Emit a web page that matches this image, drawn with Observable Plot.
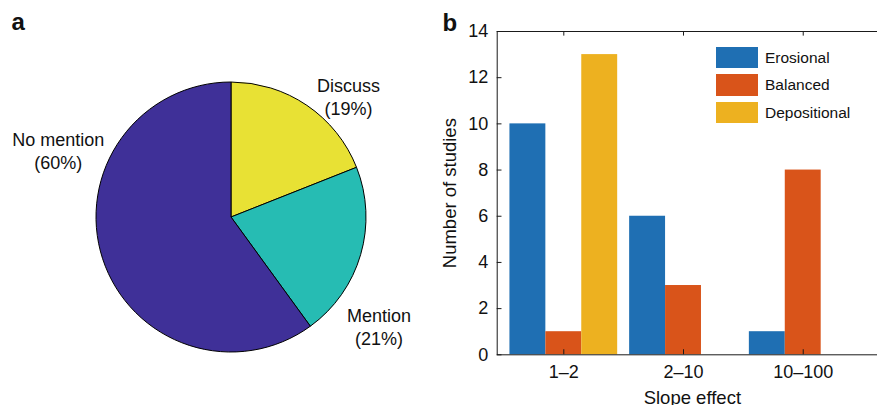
<!DOCTYPE html>
<html><head><meta charset="utf-8">
<script src="https://cdn.jsdelivr.net/npm/d3@7"></script>
<script src="https://cdn.jsdelivr.net/npm/@observablehq/plot@0.6"></script>
<style>
body{margin:0;background:#fff;font-family:"Liberation Sans",Arial,sans-serif;}
#wrap{position:relative;width:877px;height:405px;overflow:hidden;background:#fff;}
.plot{position:absolute;top:0;}
.panel{position:absolute;font-weight:bold;font-size:24px;line-height:24px;color:#111;}
#legend{position:absolute;left:716px;top:43.8px;font-size:15.5px;color:#111;}
.item{display:flex;align-items:center;height:27.5px;}
.sw{width:42px;height:21.7px;margin-right:7px;}
</style></head><body>
<div id="wrap"></div>
<script>
// ---- data ----
const pieCategories = ["Discuss", "Mention", "No mention"];
const piePercents = [19, 21, 60];
const pieColors = ["#e8e134", "#26bcb3", "#3f3098"];

const slopeLabels = ["1–2", "2–10", "10–100"];
const seriesNames = ["Erosional", "Balanced", "Depositional"];
const erosional = [10, 6, 1];
const balanced = [1, 3, 8];
const depositional = [13, 0, 0];
const barColors = ["#1f6fb3", "#d9541a", "#edb120"];
const yTicks = [0, 2, 4, 6, 8, 10, 12, 14];

// ---- pie ----
const wrap = document.getElementById("wrap");
const pieRows = pieCategories.map((c, i) => ({cat: c, pct: piePercents[i]}));
const arcs = d3.pie().sort(null).value(d => d.pct)(pieRows);
arcs.forEach(a => { a.mid = (a.startAngle + a.endAngle) / 2; });

function pieMark(...args) {
  const scales = args.find(a => a && typeof a.x === "function" && typeof a.y === "function");
  const cx = scales.x(0), cy = scales.y(0), r = scales.x(1) - scales.x(0);
  const g = d3.create("svg:g").attr("transform", `translate(${cx},${cy})`);
  const arc = d3.arc().innerRadius(0).outerRadius(r);
  g.selectAll("path").data(arcs).join("path")
    .attr("d", arc)
    .attr("fill", d => pieColors[pieCategories.indexOf(d.data.cat)])
    .attr("stroke", "#000").attr("stroke-width", 1).attr("stroke-linejoin", "round");
  return g.node();
}
const lab = (cat, opts) => Plot.text(arcs.filter(a => a.data.cat === cat), {
  x: a => 1.1 * Math.sin(a.mid), y: a => 1.1 * Math.cos(a.mid),
  text: a => `${a.data.cat}\n(${a.data.pct}%)`,
  textAnchor: "middle", lineAnchor: "middle", lineHeight: 1.28, fontSize: 18, fill: "#111", ...opts
});
const pie = Plot.plot({
  width: 440, height: 405, margin: 0,
  style: {fontFamily: "Liberation Sans, Arial, sans-serif", background: "transparent"},
  x: {domain: [-231 / 135, 209 / 135], axis: null},
  y: {domain: [-188 / 135, 217 / 135], axis: null},
  marks: [
    pieMark,
    lab("Discuss", {dx: 33.5, dy: 1.3}),
    lab("Mention", {dx: 5, dy: 67}),
    lab("No mention", {dx: -32, dy: -113})
  ]
});
pie.classList.add("plot"); pie.style.left = "0px";
wrap.appendChild(pie);

// ---- bars ----
const seriesValues = [erosional, balanced, depositional];
const barRows = [];
slopeLabels.forEach((s, gi) => seriesNames.forEach((name, si) => {
  const c = gi + 1 + (si - 1) * 0.3;
  barRows.push({slope: s, series: name, n: seriesValues[si][gi], x1: c - 0.15, x2: c + 0.15});
}));
const x0 = 0.4436;
const bar = Plot.plot({
  width: 457, height: 405, marginLeft: 66.7, marginRight: 0, marginTop: 31, marginBottom: 50.7,
  style: {fontFamily: "Liberation Sans, Arial, sans-serif", fontSize: "18px", color: "#111", background: "transparent"},
  x: {domain: [x0, 3.704], ticks: [1, 2, 3], tickFormat: d => slopeLabels[d - 1], tickSize: 0, tickPadding: 10, label: null},
  y: {domain: [0, 14], ticks: yTicks, tickSize: 0, tickPadding: 9, label: null},
  color: {domain: seriesNames, range: barColors},
  marks: [
    Plot.rect(barRows, {x1: "x1", x2: "x2", y1: 0, y2: "n", fill: "series"}),
    Plot.frame({stroke: "#1a1a1a"}),
    Plot.ruleX([1, 2, 3], {x: d => d, y1: 0, y2: 0.22, stroke: "#1a1a1a"}),
    Plot.ruleX([1, 2, 3], {x: d => d, y1: 14, y2: 13.8, stroke: "#1a1a1a"}),
    Plot.ruleY(yTicks, {y: d => d, x1: x0, x2: x0 + 0.04, stroke: "#1a1a1a"}),
    Plot.text(["Number of studies"], {frameAnchor: "left", textAnchor: "middle", lineAnchor: "middle", rotate: -90, dx: -46.7, fontSize: 18.5, fill: "#111"}),
    Plot.text(["Slope effect"], {frameAnchor: "bottom", textAnchor: "middle", lineAnchor: "middle", dy: 43, fontSize: 18.5, fill: "#111"})
  ]
});
bar.classList.add("plot"); bar.style.left = "430px";
d3.select(bar).selectAll("g[aria-label*='axis']").attr("font-size", 18);
wrap.appendChild(bar);

// ---- legend ----
const color = bar.scale("color");
const legend = document.createElement("div");
legend.id = "legend";
seriesNames.forEach(n => {
  const it = document.createElement("div"); it.className = "item";
  const sw = document.createElement("div"); sw.className = "sw"; sw.style.background = color.apply(n);
  const tx = document.createElement("span"); tx.textContent = n;
  it.appendChild(sw); it.appendChild(tx); legend.appendChild(it);
});
wrap.appendChild(legend);

// ---- panel labels ----
[["a", 11.5, 9.7], ["b", 442.5, 10.7]].forEach(([t, l, tp]) => {
  const d = document.createElement("div"); d.className = "panel";
  d.textContent = t; d.style.left = l + "px"; d.style.top = tp + "px";
  wrap.appendChild(d);
});
</script>
</body></html>
